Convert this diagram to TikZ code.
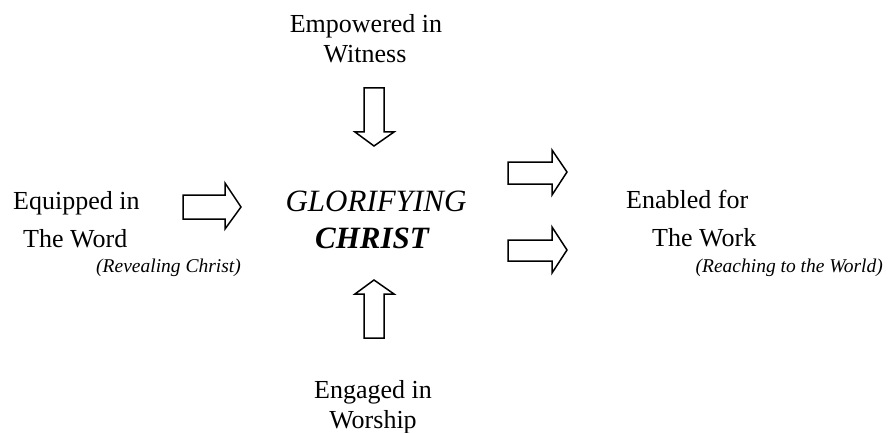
\documentclass[tikz,border=0pt]{standalone}
\usepackage{fontspec}
\setmainfont{Liberation Serif}
\begin{document}
\begin{tikzpicture}[x=1pt,y=-1pt,
  lbl/.style={inner sep=0pt,font=\fontsize{26}{30}\selectfont},
  core/.style={inner sep=0pt,font=\fontsize{31}{36}\selectfont\itshape},
  sub/.style={inner sep=0pt,font=\fontsize{19.5}{24}\selectfont\itshape},
  blockarrow/.style={draw=black,line width=1.5pt,fill=white,line join=miter}]
\useasboundingbox[fill=white] (0,0) rectangle (891,433);
% top
\node[lbl,anchor=base] (emp1) at (366,33) {Empowered in};
\node[lbl,anchor=base] (emp2) at (365,63) {Witness};
% left
\node[lbl,anchor=base west] (equ1) at (13,209) {Equipped in};
\node[lbl,anchor=base west] (equ2) at (23,247) {The Word};
\node[sub,anchor=base east] (rev) at (241,272) {(Revealing Christ)};
% center
\node[core,anchor=base] (glo) at (376,211) {GLORIFYING};
\node[core,anchor=base,font=\fontsize{31}{36}\selectfont\bfseries\itshape] (chr) at (372,248) {CHRIST};
% right
\node[lbl,anchor=base west] (ena1) at (626,208) {Enabled for};
\node[lbl,anchor=base west] (ena2) at (652,246) {The Work};
\node[sub,anchor=base east] (rea) at (883,272) {(Reaching to the World)};
% bottom
\node[lbl,anchor=base] (eng1) at (373,398) {Engaged in};
\node[lbl,anchor=base] (eng2) at (373,428) {Worship};
% arrows
\draw[blockarrow] (364,88) -- (384,88) -- (384,132) -- (394,132) -- (374,146) -- (355,132) -- (364,132) -- cycle;
\draw[blockarrow] (364,338) -- (384,338) -- (384,294) -- (394,294) -- (374,280) -- (355,294) -- (364,294) -- cycle;
\draw[blockarrow] (183,195) -- (225,195) -- (225,183) -- (241,207) -- (225,229) -- (225,219) -- (183,219) -- cycle;
\draw[blockarrow] (508,162) -- (552,162) -- (552,150) -- (567,172) -- (552,195) -- (552,184) -- (508,184) -- cycle;
\draw[blockarrow] (508,240) -- (552,240) -- (552,227) -- (567,250) -- (552,273) -- (552,261) -- (508,261) -- cycle;
\end{tikzpicture}
\end{document}
